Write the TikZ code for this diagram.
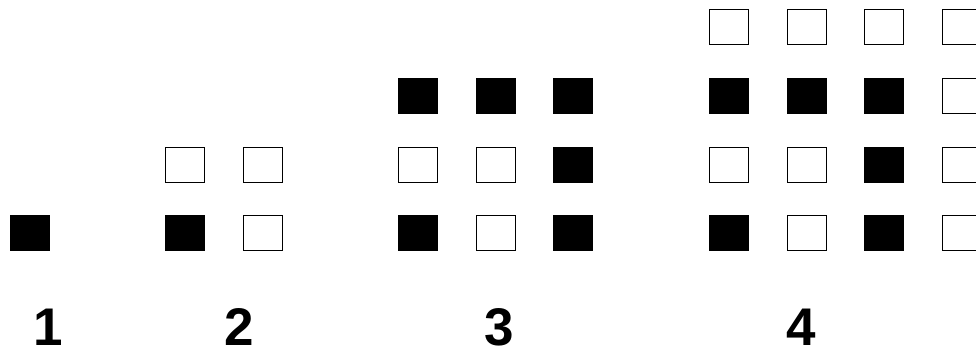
\documentclass[tikz,border=0pt]{standalone}
\usepackage{fontspec}
\setmainfont{Liberation Sans}
\begin{document}
\begin{tikzpicture}[x=1pt,y=-1pt,
  sq/.style={rectangle,draw=black,line width=1pt,inner sep=0pt,minimum width=39pt,minimum height=35pt},
  bsq/.style={sq,fill=black},
  wsq/.style={sq,fill=white},
  lab/.style={anchor=base,inner sep=0pt,font=\fontsize{53}{60}\bfseries\selectfont}]
\useasboundingbox (0,0) rectangle (976,349);
% group 1
\node[bsq] (a44) at (29.5,232.5) {};
% group 2
\node[wsq] (b31) at (184.9,164.5) {};
\node[wsq] (b32) at (262.5,164.5) {};
\node[bsq] (b41) at (184.9,232.5) {};
\node[wsq] (b42) at (262.5,232.5) {};
% group 3
\node[bsq] (c21) at (418,95.5) {};
\node[bsq] (c22) at (495.5,95.5) {};
\node[bsq] (c23) at (573.2,95.5) {};
\node[wsq] (c31) at (418,164.5) {};
\node[wsq] (c32) at (495.5,164.5) {};
\node[bsq] (c33) at (573.2,164.5) {};
\node[bsq] (c41) at (418,232.5) {};
\node[wsq] (c42) at (495.5,232.5) {};
\node[bsq] (c43) at (573.2,232.5) {};
% group 4
\node[wsq] (d11) at (728.5,26.5) {};
\node[wsq] (d12) at (806.5,26.5) {};
\node[wsq] (d13) at (884,26.5) {};
\node[wsq] (d14) at (961.5,26.5) {};
\node[bsq] (d21) at (728.5,95.5) {};
\node[bsq] (d22) at (806.5,95.5) {};
\node[bsq] (d23) at (884,95.5) {};
\node[wsq] (d24) at (961.5,95.5) {};
\node[wsq] (d31) at (728.5,164.5) {};
\node[wsq] (d32) at (806.5,164.5) {};
\node[bsq] (d33) at (884,164.5) {};
\node[wsq] (d34) at (961.5,164.5) {};
\node[bsq] (d41) at (728.5,232.5) {};
\node[wsq] (d42) at (806.5,232.5) {};
\node[bsq] (d43) at (884,232.5) {};
\node[wsq] (d44) at (961.5,232.5) {};
% labels
\node[lab] (l1) at (48,345) {1};
\node[lab] (l2) at (239,345) {2};
\node[lab] (l3) at (499,345) {3};
\node[lab] (l4) at (801,345) {4};
\end{tikzpicture}
\end{document}
